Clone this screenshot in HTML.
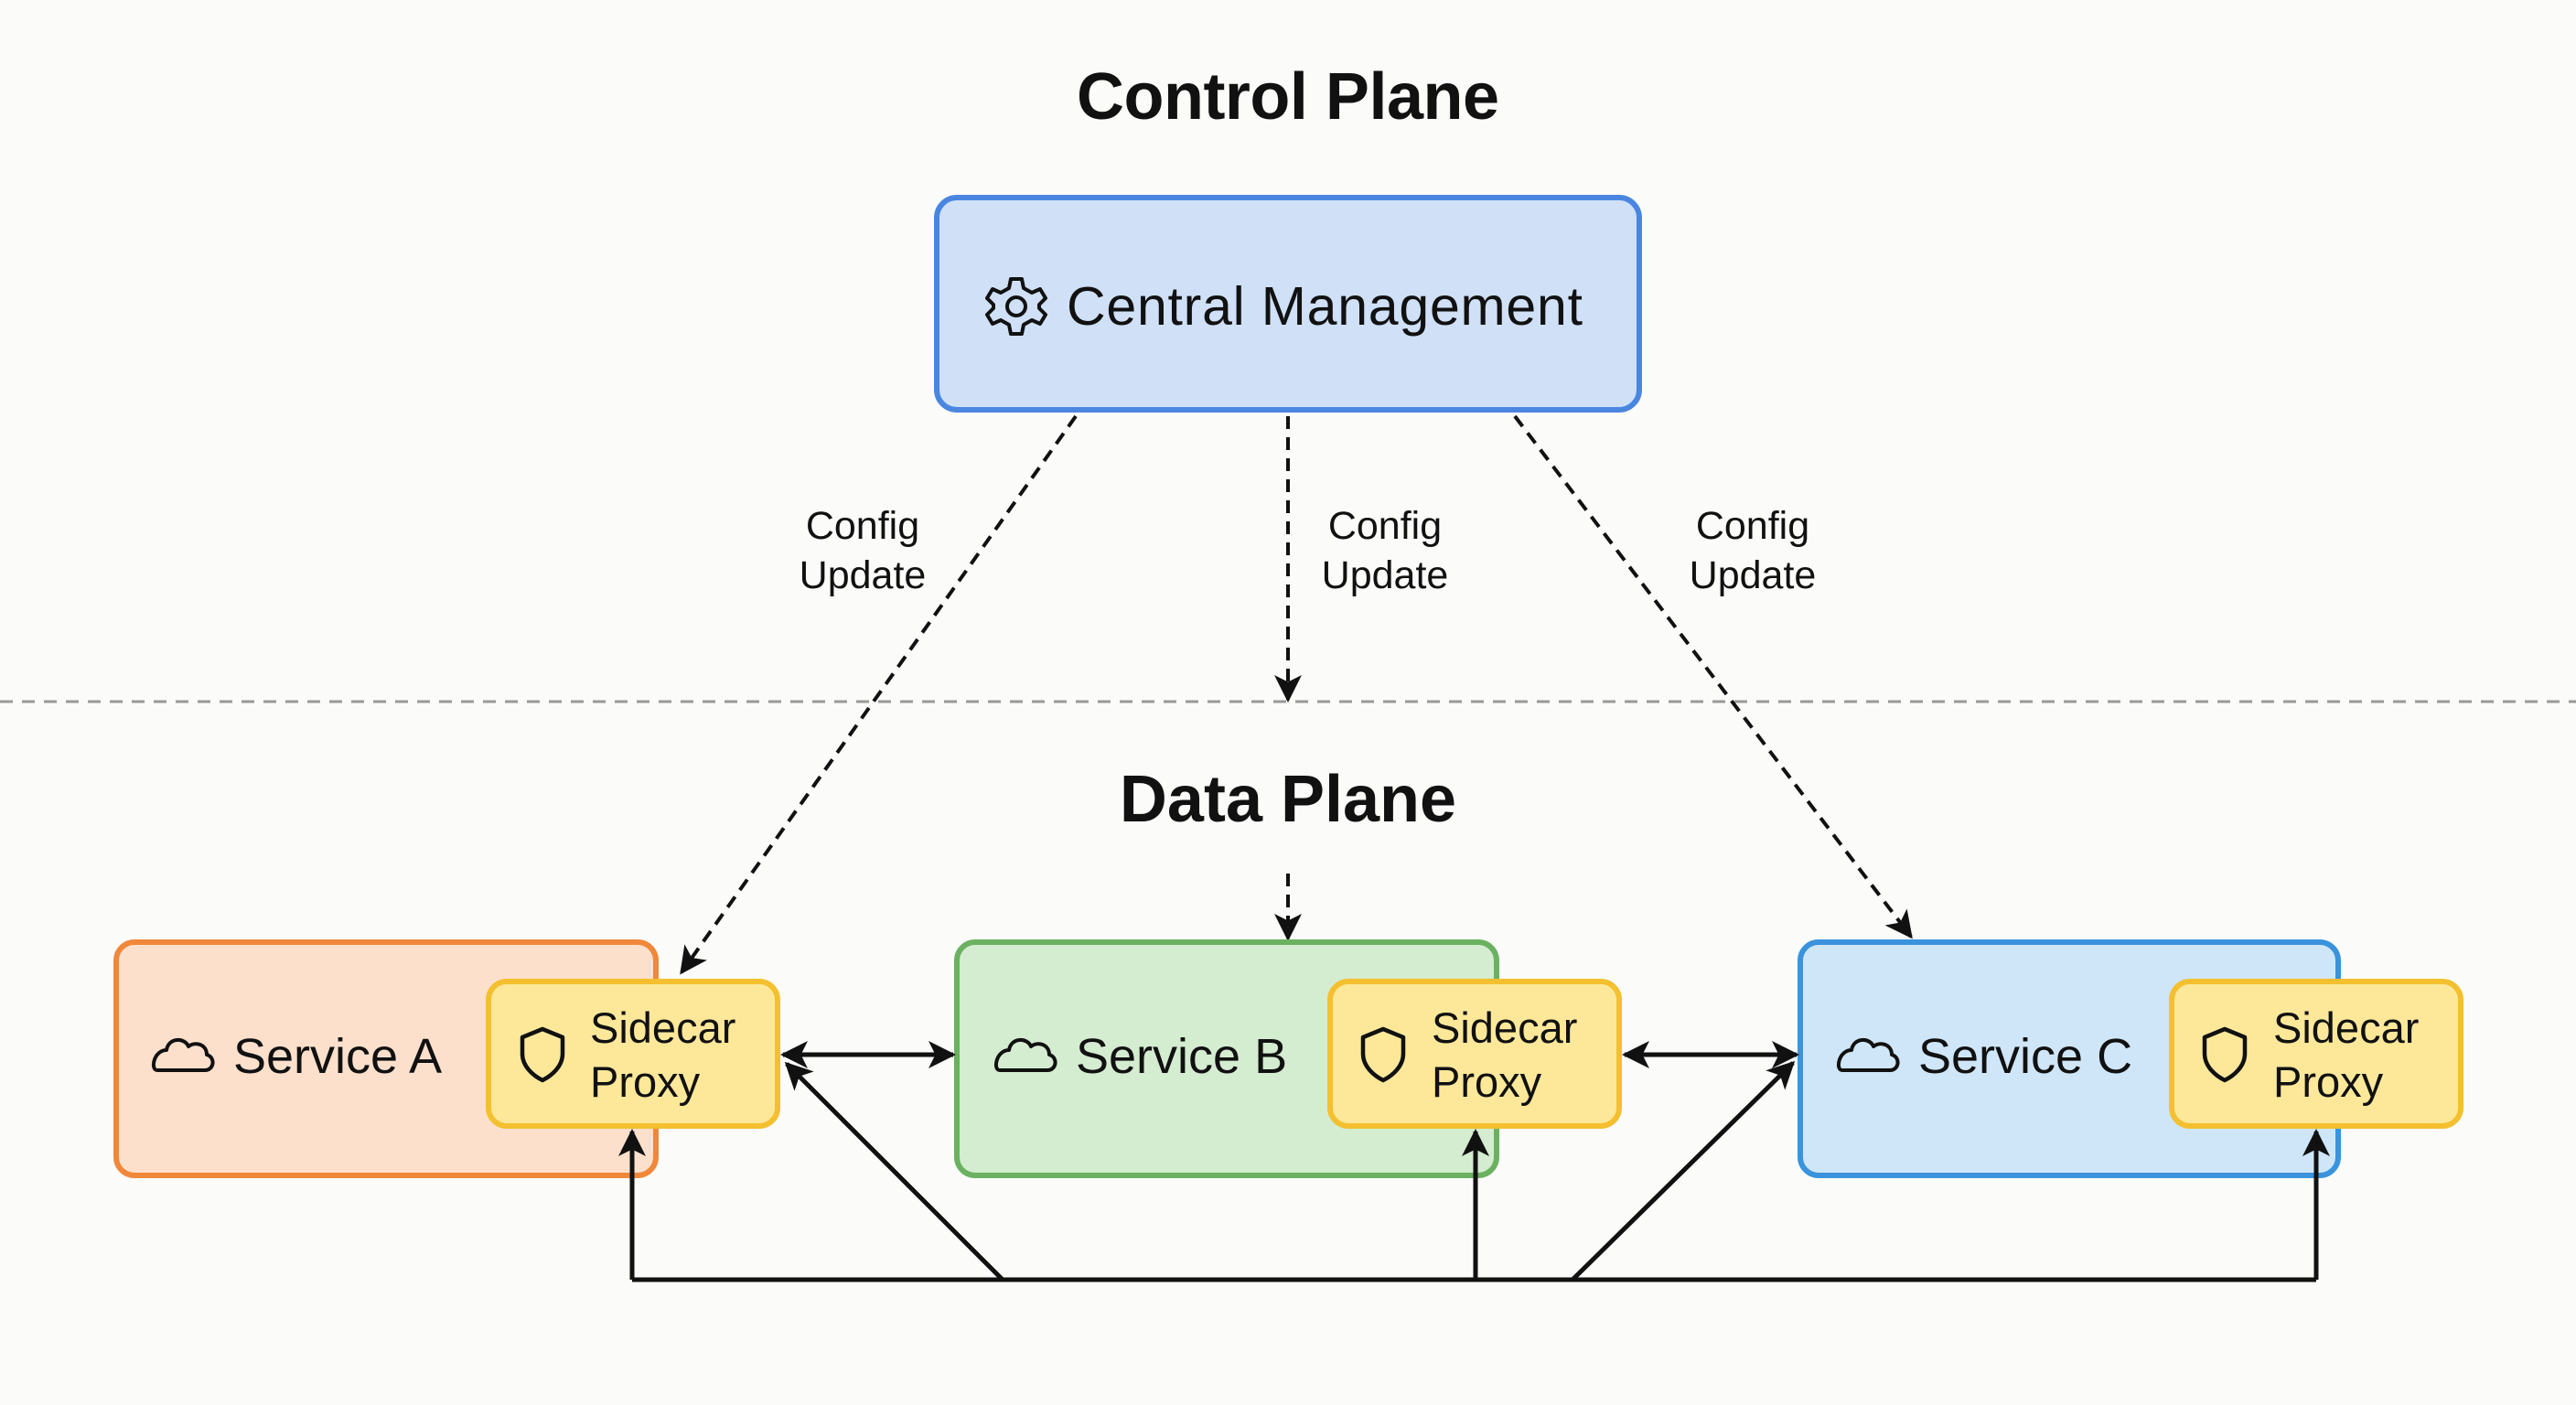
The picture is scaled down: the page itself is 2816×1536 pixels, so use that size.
<!DOCTYPE html>
<html><head><meta charset="utf-8"><style>
html,body{margin:0;padding:0;background:#fbfbfa;}
svg{display:block;}
text{font-family:"Liberation Sans",sans-serif;fill:#111;}
</style></head><body>
<svg width="2816" height="1536" viewBox="0 0 2816 1536" xmlns="http://www.w3.org/2000/svg">
<defs>
<marker id="a" viewBox="0 0 10 10" refX="9" refY="5" markerWidth="6" markerHeight="6" orient="auto-start-reverse"><path d="M0,0 L10,5 L0,10 L2.5,5 z" fill="#111"/></marker>
<marker id="d" viewBox="0 0 10 10" refX="9" refY="5" markerWidth="7.5" markerHeight="7.5" orient="auto"><path d="M0,0 L10,5 L0,10 L2.5,5 z" fill="#111"/></marker>
</defs>
<rect width="2816" height="1536" fill="#fbfbfa"/>
<text x="1408" y="130" font-size="72" font-weight="bold" text-anchor="middle" textLength="462">Control Plane</text>
<text x="1408" y="898" font-size="72" font-weight="bold" text-anchor="middle">Data Plane</text>
<line x1="0" y1="767" x2="2816" y2="767" stroke="#999" stroke-width="3" stroke-dasharray="14,10"/>

<rect x="1024" y="216" width="768" height="232" rx="22" fill="#cfe0f7" stroke="#4a86e0" stroke-width="6"/>
<g transform="translate(1111,335)" fill="none" stroke="#111" stroke-width="4">
<path d="M-6,-30 L6,-30 L8,-20 L17,-15 L26,-19 L32,-9 L25,-2 L25,2 L32,9 L26,19 L17,15 L8,20 L6,30 L-6,30 L-8,20 L-17,15 L-26,19 L-32,9 L-25,2 L-25,-2 L-32,-9 L-26,-19 L-17,-15 L-8,-20 Z" stroke-linejoin="round"/>
<circle r="10"/></g>
<text x="1166" y="355" font-size="59" textLength="564">Central Management</text>

<g stroke="#111" stroke-width="4" stroke-dasharray="14,9" fill="none">
<line x1="1176" y1="455" x2="745" y2="1063" marker-end="url(#d)"/>
<line x1="1408" y1="455" x2="1408" y2="765" marker-end="url(#d)"/>
<line x1="1656" y1="455" x2="2089" y2="1024" marker-end="url(#d)"/>
<line x1="1408" y1="955" x2="1408" y2="1026" marker-end="url(#d)"/>
</g>
<g font-size="43" text-anchor="middle">
<text x="943" y="589">Config</text><text x="943" y="643">Update</text>
<text x="1514" y="589">Config</text><text x="1514" y="643">Update</text>
<text x="1916" y="589">Config</text><text x="1916" y="643">Update</text>
</g>

<rect x="127" y="1030" width="590" height="255" rx="20" fill="#fde0cc" stroke="#f0883a" stroke-width="6"/>
<rect x="1046" y="1030" width="590" height="255" rx="20" fill="#d4ecd0" stroke="#6ab160" stroke-width="6"/>
<rect x="1968" y="1030" width="588" height="255" rx="20" fill="#cfe6f8" stroke="#3a93dc" stroke-width="6"/>
<g fill="#fde89a" stroke="#f4c030" stroke-width="6">
<rect x="534" y="1073" width="316" height="158" rx="20"/>
<rect x="1454" y="1073" width="316" height="158" rx="20"/>
<rect x="2374" y="1073" width="316" height="158" rx="20"/>
</g>
<defs>
<path id="cloud" d="M-26,14 L26,14 C36,14 38,0 28,-3 C28,-14 16,-18 8,-12 C4,-22 -14,-22 -16,-8 C-30,-8 -34,14 -26,14 Z" fill="none" stroke="#111" stroke-width="4" stroke-linejoin="round"/>
<path id="shield" d="M0,-27 L22,-18 L22,0 C22,14 10,24 0,29 C-10,24 -22,14 -22,0 L-22,-18 Z" fill="none" stroke="#111" stroke-width="4.5" stroke-linejoin="round"/>
</defs>
<use href="#cloud" x="198" y="1156"/>
<use href="#cloud" x="1119" y="1156"/>
<use href="#cloud" x="2040" y="1156"/>
<g font-size="54">
<text x="255" y="1173">Service A</text>
<text x="1176" y="1173">Service B</text>
<text x="2097" y="1173">Service C</text>
</g>
<use href="#shield" x="593" y="1152"/>
<use href="#shield" x="1512" y="1152"/>
<use href="#shield" x="2432" y="1152"/>
<g font-size="47">
<text x="645" y="1140">Sidecar</text><text x="645" y="1199">Proxy</text>
<text x="1565" y="1140">Sidecar</text><text x="1565" y="1199">Proxy</text>
<text x="2485" y="1140">Sidecar</text><text x="2485" y="1199">Proxy</text>
</g>

<g stroke="#111" stroke-width="5" fill="none">
<line x1="856" y1="1153" x2="1042" y2="1153" marker-start="url(#a)" marker-end="url(#a)"/>
<line x1="1776" y1="1153" x2="1964" y2="1153" marker-start="url(#a)" marker-end="url(#a)"/>
<polyline points="691,1399 2532,1399"/>
<line x1="691" y1="1399" x2="691" y2="1237" marker-end="url(#a)"/>
<line x1="1613" y1="1399" x2="1613" y2="1237" marker-end="url(#a)"/>
<line x1="2532" y1="1399" x2="2532" y2="1237" marker-end="url(#a)"/>
<line x1="1096" y1="1399" x2="860" y2="1163" marker-end="url(#a)"/>
<line x1="1719" y1="1399" x2="1960" y2="1162" marker-end="url(#a)"/>
</g>
</svg>
</body></html>
